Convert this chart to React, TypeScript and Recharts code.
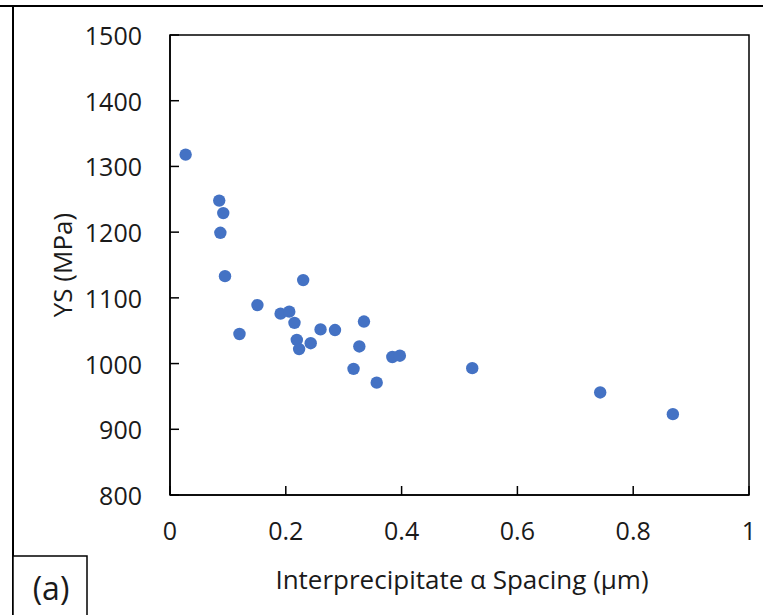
import React from 'react';
import { ScatterChart, Scatter, XAxis, YAxis, ReferenceArea } from 'recharts';

const spacing = [0.027, 0.085, 0.092, 0.087, 0.095, 0.230, 0.151, 0.120, 0.191, 0.206, 0.215, 0.219, 0.223, 0.243, 0.260, 0.285, 0.335, 0.327, 0.317, 0.357, 0.384, 0.397, 0.522, 0.743, 0.8685];
const ys = [1318, 1248, 1229, 1199, 1133, 1127, 1089, 1045, 1076, 1079, 1062, 1036, 1022, 1031, 1052, 1051, 1064, 1026, 992, 971, 1010, 1012, 993, 956, 923];
const xTicks = [0, 0.2, 0.4, 0.6, 0.8, 1];
const yTicks = [800, 900, 1000, 1100, 1200, 1300, 1400, 1500];

const data = spacing.map((x, i) => ({ x, y: ys[i] }));

const FONT = '"Open Sans", "Noto Sans", sans-serif';
const TEXT = '#1a1a1a';

const YTick = (props: any) => {
  const { x, y, payload } = props;
  return (
    <g>
      <line x1={x} x2={x + 9} y1={y} y2={y} stroke="#000" strokeWidth={1.5} />
      <text x={x - 28} y={y} textAnchor="end" dominantBaseline="central" fontSize={25} fontFamily={FONT} fill={TEXT}>
        {payload.value}
      </text>
    </g>
  );
};

const XTick = (props: any) => {
  const { x, y, payload } = props;
  return (
    <g>
      <line x1={x} x2={x} y1={y} y2={y - 9} stroke="#000" strokeWidth={1.5} />
      <text x={x} y={y + 35} textAnchor="middle" dominantBaseline="central" fontSize={25} fontFamily={FONT} fill={TEXT}>
        {String(payload.value)}
      </text>
    </g>
  );
};

const Dot = (props: any) => <circle cx={props.cx} cy={props.cy} r={6.2} fill="#4472C4" />;

export default function App() {
  return (
    <div style={{ position: 'absolute', left: 0, top: 0, width: 763, height: 615, background: '#fff', overflow: 'hidden' }}>
      <ScatterChart width={763} height={615} margin={{ top: 35, right: 14, bottom: 90, left: 110 }}>
        <XAxis
          type="number"
          dataKey="x"
          domain={[0, 1]}
          ticks={xTicks}
          tick={<XTick />}
          tickSize={0}
          tickMargin={0}
          tickLine={false}
          height={30}
          stroke="#000"
          strokeWidth={1.5}
          interval={0}
        />
        <YAxis
          type="number"
          dataKey="y"
          domain={[800, 1500]}
          ticks={yTicks}
          tick={<YTick />}
          tickSize={0}
          tickMargin={0}
          tickLine={false}
          width={60}
          stroke="#000"
          strokeWidth={1.5}
          interval={0}
        />
        <ReferenceArea x1={0} x2={1} y1={800} y2={1500} fill="none" fillOpacity={0} stroke="#000" strokeWidth={1.5} ifOverflow="visible" />
        <Scatter data={data} shape={<Dot />} isAnimationActive={false} />
        <text x={62} y={265} transform="rotate(-90 62 265)" textAnchor="middle" dominantBaseline="central" fontSize={26} fontFamily={FONT} fill={TEXT}>
          YS (MPa)
        </text>
        <text x={462} y={579} textAnchor="middle" dominantBaseline="central" fontSize={26} fontFamily={FONT} fill={TEXT}>
          Interprecipitate α Spacing (μm)
        </text>
        <line x1={0} x2={763} y1={6} y2={6} stroke="#000" strokeWidth={2} />
        <line x1={13} x2={13} y1={6} y2={615} stroke="#000" strokeWidth={2} />
        <rect x={13} y={556} width={74} height={70} fill="#fff" stroke="#000" strokeWidth={1.5} />
        <text x={51} y={587} textAnchor="middle" dominantBaseline="central" fontSize={32} fontFamily={FONT} fill={TEXT}>
          (a)
        </text>
      </ScatterChart>
    </div>
  );
}
